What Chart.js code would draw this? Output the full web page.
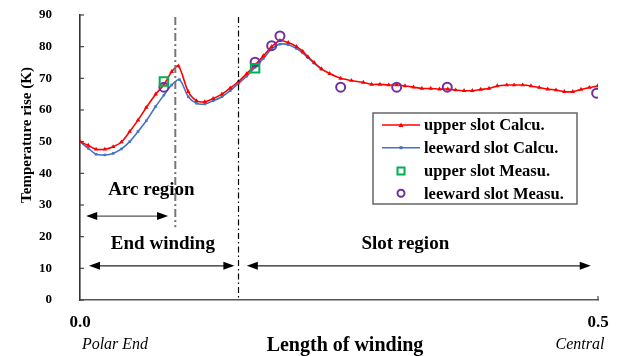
<!DOCTYPE html>
<html><head><meta charset="utf-8">
<script src="https://cdn.jsdelivr.net/npm/chart.js@4.4.1/dist/chart.umd.min.js"></script>
<style>html,body{margin:0;padding:0;background:#fff}#wrap{width:620px;height:356px;position:relative}</style>
</head><body><div id="wrap"><canvas id="c" width="620" height="356"></canvas></div>
<script>
// ---- data ----
const xUpperCalc = [0.000,0.008,0.0155,0.024,0.032,0.040,0.048,0.056,0.064,0.073,0.081,0.0885,0.095,0.1045,0.1125,0.1205,0.1285,0.137,0.145,0.153,0.161,0.169,0.177,0.185,0.193,0.201,0.209,0.215,0.220,0.226,0.233,0.241,0.2516,0.262,0.2735,0.2815,0.2895,0.298,0.3057,0.3137,0.322,0.330,0.3385,0.347,0.355,0.3626,0.3707,0.3787,0.3868,0.3948,0.4028,0.412,0.419,0.4273,0.4353,0.4433,0.4514,0.4595,0.4675,0.4756,0.4836,0.4916,0.4997];
const upperCalc = [50.0,48.8,47.6,47.6,48.4,49.9,53.2,56.8,60.8,65.0,68.0,72.1,73.9,65.8,62.9,62.6,63.6,65.0,66.9,69.0,71.5,74.2,77.1,80.0,81.9,81.3,80.0,78.5,76.8,75.0,73.0,71.5,70.0,69.3,68.7,68.1,68.1,67.9,67.9,67.6,67.2,66.8,66.8,66.6,66.6,66.3,66.1,66.1,66.5,66.8,67.6,67.9,67.9,67.9,67.6,67.1,66.6,66.3,65.8,65.8,66.5,67.1,67.6];
const xLeewardCalc = [0.000,0.008,0.0155,0.024,0.032,0.040,0.048,0.056,0.064,0.073,0.081,0.0885,0.096,0.1045,0.1125,0.1205,0.1285,0.137,0.145,0.153,0.161,0.169,0.177,0.185,0.193,0.201,0.209,0.215,0.220,0.226,0.233];
const leewardCalc = [50.0,47.9,46.0,45.8,46.3,47.7,50.0,53.2,56.6,61.1,64.7,67.9,69.6,64.2,62.1,61.9,62.9,64.2,66.1,68.4,70.7,73.5,76.3,79.3,80.8,80.6,79.4,78.0,76.5,74.8,72.9];
const xUpperMeas = [0.081,0.169];
const upperMeas = [69.0,73.2];
const xLeewardMeas = [0.081,0.169,0.185,0.193,0.2516,0.3057,0.3545,0.4987];
const leewardMeas = [67.2,75.1,80.3,83.4,67.2,67.2,67.2,65.3];
const seriesNames = ['upper slot Calcu.','leeward slot Calcu.','upper slot Measu.','leeward slot Measu.'];
const yTicks = [0,10,20,30,40,50,60,70,80,90];
const xTicks = [0,0.5];
const arcBoundary = 0.092, slotBoundary = 0.153;

const pts = (xs, ys) => xs.map((x,i)=>({x:x,y:ys[i]}));
const SERIF = '"Liberation Serif","Times New Roman",serif';

const overlay = {
  id:'overlay',
  afterDatasetsDraw(chart){
    const ctx = chart.ctx, xs = chart.scales.x, ys = chart.scales.y;
    const X = v=>xs.getPixelForValue(v), Y = v=>ys.getPixelForValue(v);
    ctx.save();
    // inward y ticks
    ctx.strokeStyle='#444'; ctx.lineWidth=1.2;
    yTicks.forEach(t=>{ctx.beginPath();ctx.moveTo(xs.left,Y(t));ctx.lineTo(xs.left+4,Y(t));ctx.stroke();});
    ctx.beginPath();ctx.moveTo(X(0.5),ys.bottom);ctx.lineTo(X(0.5),ys.bottom-4);ctx.stroke();
    // vertical boundary lines
    ctx.strokeStyle='#777'; ctx.lineWidth=2; ctx.setLineDash([8,3,2,3]);
    ctx.beginPath();ctx.moveTo(X(arcBoundary),Y(89.4));ctx.lineTo(X(arcBoundary),Y(23));ctx.stroke();
    ctx.strokeStyle='#000'; ctx.lineWidth=1.2; ctx.setLineDash([6,3,1.5,3]);
    ctx.beginPath();ctx.moveTo(X(slotBoundary),Y(89.4));ctx.lineTo(X(slotBoundary),Y(0));ctx.stroke();
    ctx.setLineDash([]);
    // arrows
    function arrow(x1,x2,yv,col){
      const a=X(x1), b=X(x2), y=Y(yv);
      ctx.strokeStyle=col; ctx.fillStyle='#000'; ctx.lineWidth=1.3;
      ctx.beginPath();ctx.moveTo(a+6,y);ctx.lineTo(b-6,y);ctx.stroke();
      ctx.beginPath();ctx.moveTo(a,y);ctx.lineTo(a+11,y-4);ctx.lineTo(a+11,y+4);ctx.closePath();ctx.fill();
      ctx.beginPath();ctx.moveTo(b,y);ctx.lineTo(b-11,y-4);ctx.lineTo(b-11,y+4);ctx.closePath();ctx.fill();
    }
    arrow(0.006,0.085,26.5,'#555');
    arrow(0.0087,0.149,10.8,'#222');
    arrow(0.161,0.493,10.8,'#222');
    ctx.fillStyle='#000'; ctx.textAlign='center'; ctx.textBaseline='middle';
    ctx.font='bold 19px '+SERIF;
    ctx.fillText('Arc region',X(0.069),Y(34.7));
    ctx.fillText('End winding',X(0.08),Y(17.7));
    ctx.fillText('Slot region',X(0.314),Y(17.7));
    // legend
    const lx=373, ly=113, lw=204, lh=91;
    ctx.fillStyle='#fff'; ctx.fillRect(lx,ly,lw,lh);
    ctx.strokeStyle='#666'; ctx.lineWidth=1.5; ctx.strokeRect(lx,ly,lw,lh);
    const rows=[125,147.7,171,193.3];
    const ds=chart.data.datasets;
    ctx.font='bold 16.5px '+SERIF; ctx.textAlign='left';
    rows.forEach((ry,i)=>{
      const d=ds[i];
      if(i<2){
        ctx.strokeStyle=d.borderColor; ctx.lineWidth=1.5;
        ctx.beginPath();ctx.moveTo(382,ry);ctx.lineTo(420,ry);ctx.stroke();
        ctx.fillStyle=d.borderColor;
        if(i===0){ctx.beginPath();ctx.moveTo(401,ry-2.5);ctx.lineTo(403.5,ry+2);ctx.lineTo(398.5,ry+2);ctx.closePath();ctx.fill();}
        else{ctx.fillRect(399.5,ry-1.5,3,3);}
      } else if(i===2){
        ctx.strokeStyle=d.borderColor; ctx.lineWidth=2; ctx.strokeRect(397.5,ry-3.5,7,7);
      } else {
        ctx.strokeStyle=d.borderColor; ctx.lineWidth=2; ctx.beginPath();ctx.arc(401,ry,3.5,0,Math.PI*2);ctx.stroke();
      }
      ctx.fillStyle='#000'; ctx.fillText(seriesNames[i],424,ry+1);
    });
    // titles
    ctx.font='bold 15px '+SERIF; ctx.textAlign='center';
    ctx.save(); ctx.translate(27,135); ctx.rotate(-Math.PI/2); ctx.fillText('Temperature rise (K)',0,0); ctx.restore();
    ctx.font='bold 20px '+SERIF;
    ctx.fillText('Length of winding',345,346);
    ctx.font='italic 16px '+SERIF;
    ctx.fillText('Polar End',115,345);
    ctx.fillText('Central',580,345);
    ctx.restore();
  }
};

const chart = new Chart(document.getElementById('c'),{
  type:'scatter',
  data:{datasets:[
    {label:seriesNames[0],data:pts(xUpperCalc,upperCalc),showLine:true,borderColor:'#ff0000',backgroundColor:'#ff0000',borderWidth:1.6,pointStyle:'triangle',pointRadius:2.6,pointBorderWidth:0,tension:0.3,order:1},
    {label:seriesNames[1],data:pts(xLeewardCalc,leewardCalc),showLine:true,borderColor:'#4472c4',backgroundColor:'#4472c4',borderWidth:1.6,pointStyle:'rect',pointRadius:1.8,pointBorderWidth:0,tension:0.3,order:2},
    {label:seriesNames[2],data:pts(xUpperMeas,upperMeas),showLine:false,borderColor:'#00b050',backgroundColor:'rgba(0,0,0,0)',borderWidth:2,pointStyle:'rect',pointRadius:6,pointBorderWidth:2,order:0},
    {label:seriesNames[3],data:pts(xLeewardMeas,leewardMeas),showLine:false,borderColor:'#7030a0',backgroundColor:'rgba(0,0,0,0)',borderWidth:2,pointStyle:'circle',pointRadius:4.5,pointBorderWidth:2,order:0}
  ]},
  options:{
    responsive:false,animation:false,
    layout:{padding:{top:15,right:22,left:0,bottom:0}},
    plugins:{legend:{display:false},tooltip:{enabled:false}},
    scales:{
      x:{type:'linear',min:0,max:0.5,
        afterFit(s){s.height=56;s.paddingLeft=0;s.paddingRight=0;},
        afterBuildTicks(s){s.ticks=xTicks.map(v=>({value:v}));},
        grid:{display:false,drawTicks:false},
        border:{display:true,color:'#555',width:1.6},
        ticks:{padding:12,color:'#000',font:{family:SERIF,weight:'bold',size:17},callback:v=>Number(v).toFixed(1),maxRotation:0,autoSkip:false}
      },
      y:{min:0,max:90,
        afterFit(s){s.width=80;s.paddingTop=0;s.paddingBottom=0;},
        afterBuildTicks(s){s.ticks=yTicks.map(v=>({value:v}));},
        grid:{display:false,drawTicks:false},
        border:{display:true,color:'#333',width:1.6},
        ticks:{padding:28,color:'#000',font:{family:SERIF,weight:'bold',size:13}}
      }
    }
  },
  plugins:[overlay]
});
</script></body></html>
